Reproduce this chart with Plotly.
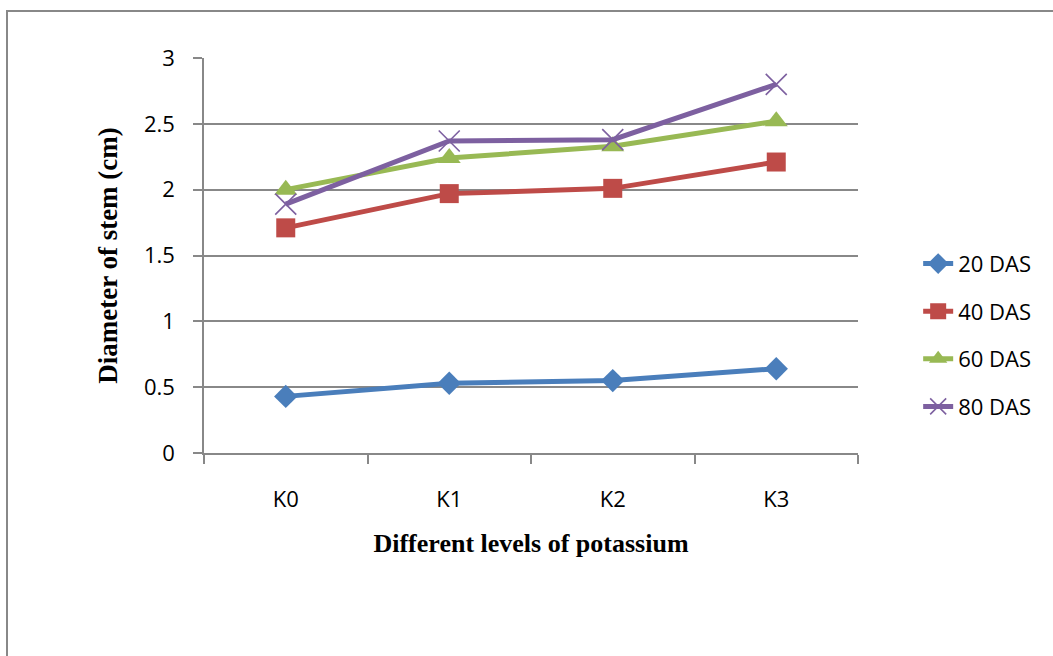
import plotly.graph_objects as go

categories = ["K0", "K1", "K2", "K3"]
das20 = [0.43, 0.53, 0.55, 0.64]
das40 = [1.71, 1.97, 2.01, 2.21]
das60 = [2.00, 2.24, 2.33, 2.52]
das80 = [1.89, 2.37, 2.38, 2.80]
series_names = ["20 DAS", "40 DAS", "60 DAS", "80 DAS"]
y_ticks = [0, 0.5, 1, 1.5, 2, 2.5, 3]
y_tick_labels = ["0", "0.5", "1", "1.5", "2", "2.5", "3"]

colors = ["#4A7EBB", "#BE4B48", "#98B954", "#7D60A0"]
symbols = ["diamond", "square", "triangle-up", "x-thin"]
sizes = [18, 19, 20, 21]

fig = go.Figure()
for i, (name, vals) in enumerate(zip(series_names, [das20, das40, das60, das80])):
    marker = dict(symbol=symbols[i], size=sizes[i], color=colors[i])
    if symbols[i] == "x-thin":
        marker["line"] = dict(color=colors[i], width=1.6)
    fig.add_trace(go.Scatter(
        x=categories, y=vals, name=name, mode="lines+markers",
        line=dict(color=colors[i], width=5),
        marker=marker, legendgroup=name,
    ))

gray = "#888888"
fig.update_layout(
    width=1053, height=656,
    margin=dict(l=204, r=195, t=58, b=203),
    paper_bgcolor="white", plot_bgcolor="white",
    font=dict(family="Open Sans", size=22, color="black"),
    showlegend=True,
    legend=dict(x=1.092, y=0.298, xanchor="left", yanchor="middle",
                font=dict(family="Open Sans", size=22, color="black"),
                tracegroupgap=16, bgcolor="rgba(0,0,0,0)"),
    xaxis=dict(type="category", range=[-0.5, 3.5], tickson="boundaries",
               ticks="outside", ticklen=9, tickcolor=gray, tickwidth=1.5,
               showline=True, linecolor=gray, linewidth=1.5, showgrid=False,
               ticklabelstandoff=26,
               title=dict(text="<b>Different levels of potassium</b>",
                          font=dict(family="Liberation Serif", size=26, color="black"),
                          standoff=22)),
    yaxis=dict(range=[0, 3], tickvals=y_ticks, ticktext=y_tick_labels,
               ticks="outside", ticklen=9, tickcolor=gray, tickwidth=1.5,
               showline=True, linecolor=gray, linewidth=1.5,
               showgrid=True, gridcolor=gray, gridwidth=1.5, zeroline=False,
               ticklabelstandoff=14,
               title=dict(text="<b>Diameter of stem (cm)</b>",
                          font=dict(family="Liberation Serif", size=27, color="black"),
                          standoff=18)),
    shapes=[dict(type="rect", xref="paper", yref="paper",
                 x0=(7 - 204) / 654, x1=(1070 - 204) / 654,
                 y0=(453 - 680) / 395, y1=(453 - 11) / 395,
                 line=dict(color=gray, width=2), layer="below")],
)

fig.write_html("out.html")
